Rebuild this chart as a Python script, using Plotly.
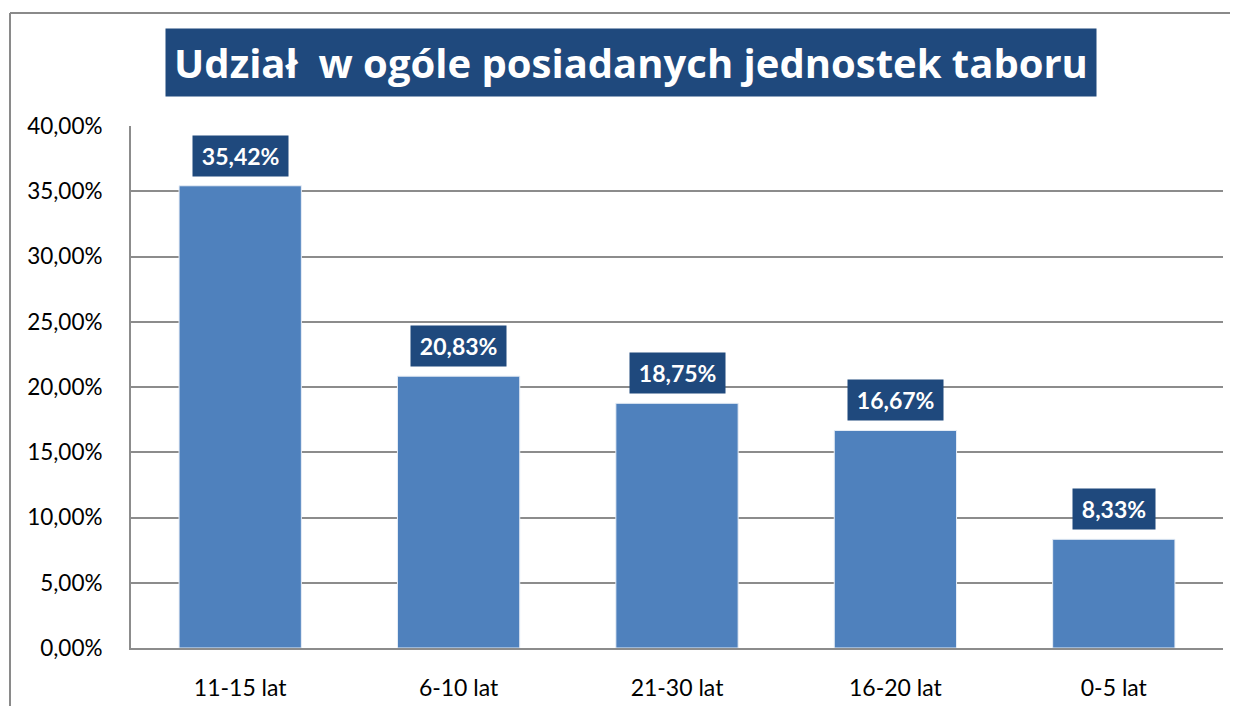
import plotly.graph_objects as go

categories = ["11-15 lat", "6-10 lat", "21-30 lat", "16-20 lat", "0-5 lat"]
values = [35.42, 20.83, 18.75, 16.67, 8.33]
label_texts = ["35,42%", "20,83%", "18,75%", "16,67%", "8,33%"]
tick_vals = [0, 5, 10, 15, 20, 25, 30, 35, 40]
tick_texts = ["0,00%", "5,00%", "10,00%", "15,00%", "20,00%", "25,00%", "30,00%", "35,00%", "40,00%"]
title_text = "Udział  w ogóle posiadanych jednostek taboru"

W, H = 1238, 706
OFF = 8  # default page body margin
L, R, T, B = 131, 1223, 126, 648  # plot area in page pixels
FONT = "Lato"
BAR = "#4F81BD"
DARK = "#1F497D"
GRID = "#8C8C8C"

def px_x(p):
    return (p - L) / (R - L)

def px_y(p):
    return (B - p) / (B - T)

fig = go.Figure()
fig.add_trace(go.Bar(
    x=categories, y=values,
    marker=dict(color=BAR, line=dict(color="#E8EEF6", width=1)),
    width=0.56,
    hoverinfo="x+y",
))

annotations = []
for c, v, t in zip(categories, values, label_texts):
    annotations.append(dict(
        x=c, y=v, xref="x", yref="y", yanchor="bottom", yshift=9,
        text="\u2009" + t + "\u2009", showarrow=False,
        font=dict(family=FONT, size=23, color="white", weight="bold"),
        bgcolor=DARK, borderpad=6,
    ))

# title box
annotations.append(dict(
    x=px_x((166 + 1096) / 2), y=px_y((29 + 96) / 2), xref="paper", yref="paper",
    xanchor="center", yanchor="middle", text=title_text, showarrow=False,
    font=dict(family="Open Sans", size=40, color="white", weight="bold"),
    bgcolor=DARK, width=1096 - 166, height=96 - 29, borderpad=0,
))

shapes = [
    # outer frame: top, left, right
    dict(type="line", xref="paper", yref="paper", x0=px_x(10), x1=px_x(1232), y0=px_y(13), y1=px_y(13),
         line=dict(color="#8A8A8A", width=2)),
    dict(type="line", xref="paper", yref="paper", x0=px_x(10), x1=px_x(10), y0=px_y(13), y1=px_y(720),
         line=dict(color="#8A8A8A", width=2)),
    dict(type="line", xref="paper", yref="paper", x0=px_x(1232), x1=px_x(1232), y0=px_y(13), y1=px_y(720),
         line=dict(color="#8A8A8A", width=2)),
]

fig.update_layout(
    width=W, height=H,
    margin=dict(l=L - OFF, r=W - (R - OFF), t=T - OFF, b=H - (B - OFF), pad=0),
    paper_bgcolor="white", plot_bgcolor="white",
    showlegend=False,
    bargap=0.44,
    font=dict(family=FONT, size=22, color="black"),
    annotations=annotations,
    shapes=shapes,
    xaxis=dict(
        showgrid=False, showline=True, linecolor=GRID, linewidth=2,
        ticks="", ticklabelstandoff=18, tickfont=dict(family=FONT, size=23, color="black"),
        fixedrange=True,
    ),
    yaxis=dict(
        range=[0, 40], tickvals=tick_vals, ticktext=tick_texts,
        showgrid=True, gridcolor=GRID, gridwidth=2,
        showline=True, linecolor=GRID, linewidth=2, zeroline=False,
        ticks="", ticklabelstandoff=22, tickfont=dict(family=FONT, size=22.5, color="black"),
        fixedrange=True,
    ),
)

fig.write_html("out.html")
